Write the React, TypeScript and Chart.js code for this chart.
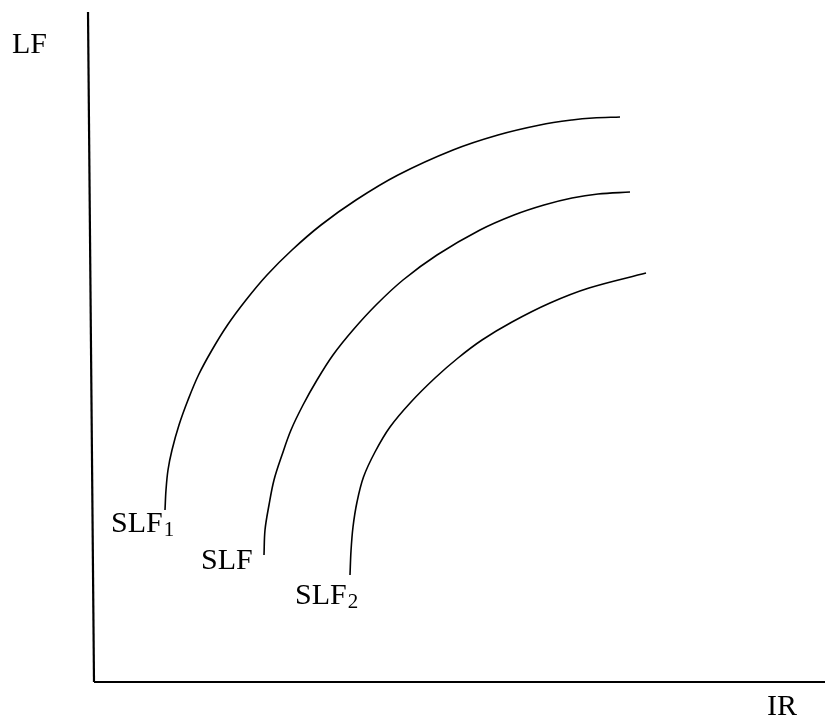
import React, { useEffect, useRef } from "react";
import { Chart, registerables } from "chart.js";

Chart.register(...registerables);

// Data units: x measured rightwards from the axis origin, y upwards from it.
const curveSLF1 = [
  { x: 71, y: 172 }, { x: 72, y: 192 }, { x: 74, y: 212 }, { x: 78, y: 232 },
  { x: 85, y: 257 }, { x: 94, y: 282 }, { x: 104.5, y: 307 }, { x: 118, y: 332 },
  { x: 133.5, y: 357 }, { x: 152, y: 382 }, { x: 173, y: 407 }, { x: 198, y: 432 },
  { x: 227, y: 457 }, { x: 262, y: 482 }, { x: 304, y: 507 }, { x: 359, y: 532 },
  { x: 404, y: 547 }, { x: 446, y: 557 }, { x: 478, y: 562 }, { x: 499, y: 564 },
  { x: 526, y: 565 },
];
const curveSLF = [
  { x: 170, y: 127 }, { x: 171, y: 152 }, { x: 175, y: 177 }, { x: 180, y: 202 },
  { x: 188, y: 227 }, { x: 197, y: 252 }, { x: 209, y: 277 }, { x: 223, y: 302 },
  { x: 239, y: 327 }, { x: 259, y: 352 }, { x: 282, y: 377 }, { x: 309, y: 402 },
  { x: 343, y: 427 }, { x: 386, y: 452 }, { x: 420, y: 467 }, { x: 450, y: 477 },
  { x: 478, y: 484 }, { x: 504, y: 488 }, { x: 536, y: 490 },
];
const curveSLF2 = [
  { x: 256, y: 107 }, { x: 257, y: 131 }, { x: 259, y: 155 }, { x: 263, y: 180 },
  { x: 269.5, y: 205 }, { x: 281, y: 230 }, { x: 296, y: 255 }, { x: 317, y: 280 },
  { x: 341, y: 304 }, { x: 364, y: 324 }, { x: 388, y: 342 }, { x: 418, y: 360 },
  { x: 456, y: 379 }, { x: 495, y: 394 }, { x: 552, y: 409 },
];
const yAxisLine = [{ x: -6, y: 670 }, { x: 0, y: 0 }];
const xAxisLine = [{ x: 0, y: 0 }, { x: 731, y: 0 }];

const labels = [
  { text: "LF", sub: "", x: -82, y: 629 },
  { text: "IR", sub: "", x: 673, y: -33 },
  { text: "SLF", sub: "1", x: 17, y: 150 },
  { text: "SLF", sub: "", x: 107, y: 113 },
  { text: "SLF", sub: "2", x: 201, y: 78 },
];

const FONT = '"Liberation Serif", "Times New Roman", Tinos, serif';

const labelPlugin = {
  id: "labelPlugin",
  afterDraw(chart: any) {
    const ctx = chart.ctx;
    const xs = chart.scales.x;
    const ys = chart.scales.y;
    ctx.save();
    ctx.fillStyle = "#000";
    ctx.textBaseline = "alphabetic";
    ctx.textAlign = "left";
    for (const l of labels) {
      const px = xs.getPixelForValue(l.x);
      const py = ys.getPixelForValue(l.y);
      ctx.font = "30px " + FONT;
      ctx.fillText(l.text, px, py);
      if (l.sub) {
        const w = ctx.measureText(l.text).width;
        ctx.font = "21px " + FONT;
        ctx.fillText(l.sub, px + w + 1, py + 4);
      }
    }
    ctx.restore();
  },
};

function lineDs(data: any[], width: number, tension: number) {
  return {
    data,
    showLine: true,
    borderColor: "#000",
    borderWidth: width,
    pointRadius: 0,
    pointHoverRadius: 0,
    tension,
    clip: false as any,
  };
}

export default function App() {
  const ref = useRef<HTMLCanvasElement | null>(null);
  useEffect(() => {
    if (!ref.current) return;
    const chart = new Chart(ref.current, {
      type: "scatter",
      data: {
        datasets: [
          lineDs(curveSLF1, 1.6, 0.35),
          lineDs(curveSLF, 1.6, 0.35),
          lineDs(curveSLF2, 1.6, 0.35),
          lineDs(yAxisLine, 2.2, 0),
          lineDs(xAxisLine, 2.2, 0),
        ],
      },
      options: {
        animation: false,
        responsive: false,
        maintainAspectRatio: false,
        layout: { padding: 0 },
        plugins: { legend: { display: false }, tooltip: { enabled: false } },
        scales: {
          x: { type: "linear", min: -94, max: 731, display: false },
          y: { type: "linear", min: -36, max: 682, display: false },
        },
      },
      plugins: [labelPlugin],
    });
    let alive = true;
    Promise.all([
      document.fonts.load('30px "Liberation Serif"'),
      document.fonts.load('21px "Liberation Serif"'),
    ]).then(() => {
      if (alive) chart.draw();
    }).catch(() => {});
    return () => {
      alive = false;
      chart.destroy();
    };
  }, []);
  return (
    <div style={{ position: "fixed", left: 0, top: 0, width: 825, height: 718, background: "#fff" }}>
      <canvas ref={ref} width={825} height={718} style={{ width: 825, height: 718, display: "block" }} />
    </div>
  );
}
